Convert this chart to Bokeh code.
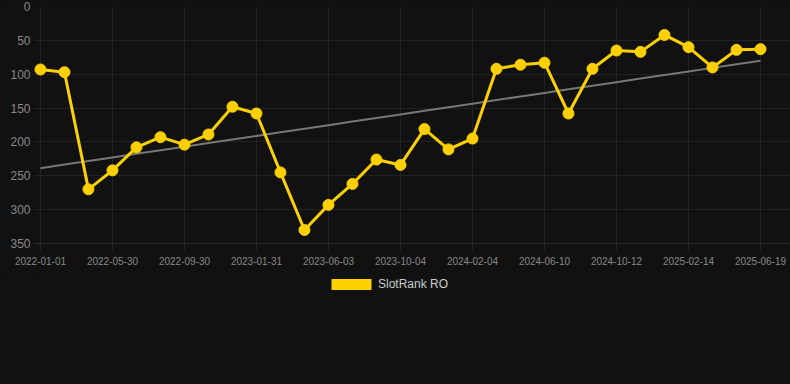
import numpy as np
from bokeh.plotting import figure
from bokeh.layouts import column
from bokeh.models import Range1d, FixedTicker, Legend, LegendItem
from bokeh.embed import file_html
from bokeh.resources import INLINE

dates = [
    "2022-01-01", "2022-02-19", "2022-04-10", "2022-05-30", "2022-07-10", "2022-08-20",
    "2022-09-30", "2022-11-10", "2022-12-21", "2023-01-31", "2023-03-13", "2023-04-23",
    "2023-06-03", "2023-07-14", "2023-08-24", "2023-10-04", "2023-11-14", "2023-12-25",
    "2024-02-04", "2024-03-16", "2024-04-28", "2024-06-10", "2024-07-21", "2024-08-31",
    "2024-10-12", "2024-11-22", "2025-01-03", "2025-02-14", "2025-03-27", "2025-05-08",
    "2025-06-19",
]
rank = [93, 97, 270, 242, 208, 193, 204, 189, 148, 158, 245, 330, 293, 262, 226, 234,
        181, 211, 195, 92, 86, 83, 158, 92, 65, 67, 42, 60, 90, 64, 63]
y_ticks = [0, 50, 100, 150, 200, 250, 300, 350]
series_name = "SlotRank RO"

x = list(range(len(dates)))
coef = np.polyfit(x, rank, 1)
trend = [float(coef[0] * xi + coef[1]) for xi in x]

FONT = "Liberation Sans"
BG = "#111111"
GOLD = "#FFD000"
DARK = {"background-color": BG}

p = figure(width=790, height=273, output_backend="svg", toolbar_location=None,
           x_range=Range1d(-0.29, 31.25), y_range=Range1d(350, 0),
           background_fill_color=BG, border_fill_color=BG, outline_line_color=None,
           min_border_left=33, min_border_right=0, min_border_top=6, min_border_bottom=30,
           styles=DARK)

p.line(x, trend, line_color="#777777", line_width=2)
p.line(x, rank, line_color=GOLD, line_width=3)
p.scatter(x, rank, size=11, fill_color=GOLD, line_color=GOLD)

xt = list(range(0, len(dates), 3))
p.xaxis.ticker = FixedTicker(ticks=xt)
p.xaxis.major_label_overrides = {i: dates[i] for i in xt}
p.xaxis.major_label_text_font = FONT
p.xaxis.major_label_text_font_size = "10px"
p.xaxis.major_label_text_color = "#888888"
p.xaxis.axis_line_color = "#2a2a2a"
p.xaxis.major_tick_line_color = "#2a2a2a"
p.xaxis.major_tick_out = 6
p.xaxis.major_tick_in = 0
p.xaxis.minor_tick_line_color = None
p.xaxis.major_label_standoff = 7

p.yaxis.ticker = FixedTicker(ticks=y_ticks)
p.yaxis.major_label_text_font = FONT
p.yaxis.major_label_text_font_size = "12px"
p.yaxis.major_label_text_color = "#888888"
p.yaxis.axis_line_color = None
p.yaxis.major_tick_line_color = None
p.yaxis.major_tick_out = 0
p.yaxis.major_tick_in = 0
p.yaxis.minor_tick_line_color = None
p.yaxis.major_label_standoff = 3

p.xgrid.grid_line_color = "#222222"
p.ygrid.grid_line_color = "#222222"
p.xgrid.ticker = FixedTicker(ticks=xt)
p.ygrid.ticker = FixedTicker(ticks=y_ticks)

# legend strip below the chart
lg = figure(width=790, height=111, output_backend="svg", toolbar_location=None,
            x_range=Range1d(0, 1), y_range=Range1d(0, 1),
            x_axis_type=None, y_axis_type=None,
            background_fill_color=BG, border_fill_color=BG, outline_line_color=None,
            min_border=0, styles=DARK)
lg.grid.visible = False
dummy = lg.rect(x=[-100], y=[-100], width=1, height=1, fill_color=GOLD, line_color=None)
legend = Legend(items=[LegendItem(label=series_name, renderers=[dummy])],
                orientation="horizontal", location=(293, 93),
                background_fill_alpha=0, border_line_color=None,
                label_text_font=FONT, label_text_font_size="12px", label_text_color="#cccccc",
                glyph_width=50, glyph_height=14, label_standoff=2, padding=4, margin=0)
lg.add_layout(legend, "center")

layout = column(p, lg, spacing=0, styles=DARK)
open("out.html", "w").write(file_html(layout, INLINE))
